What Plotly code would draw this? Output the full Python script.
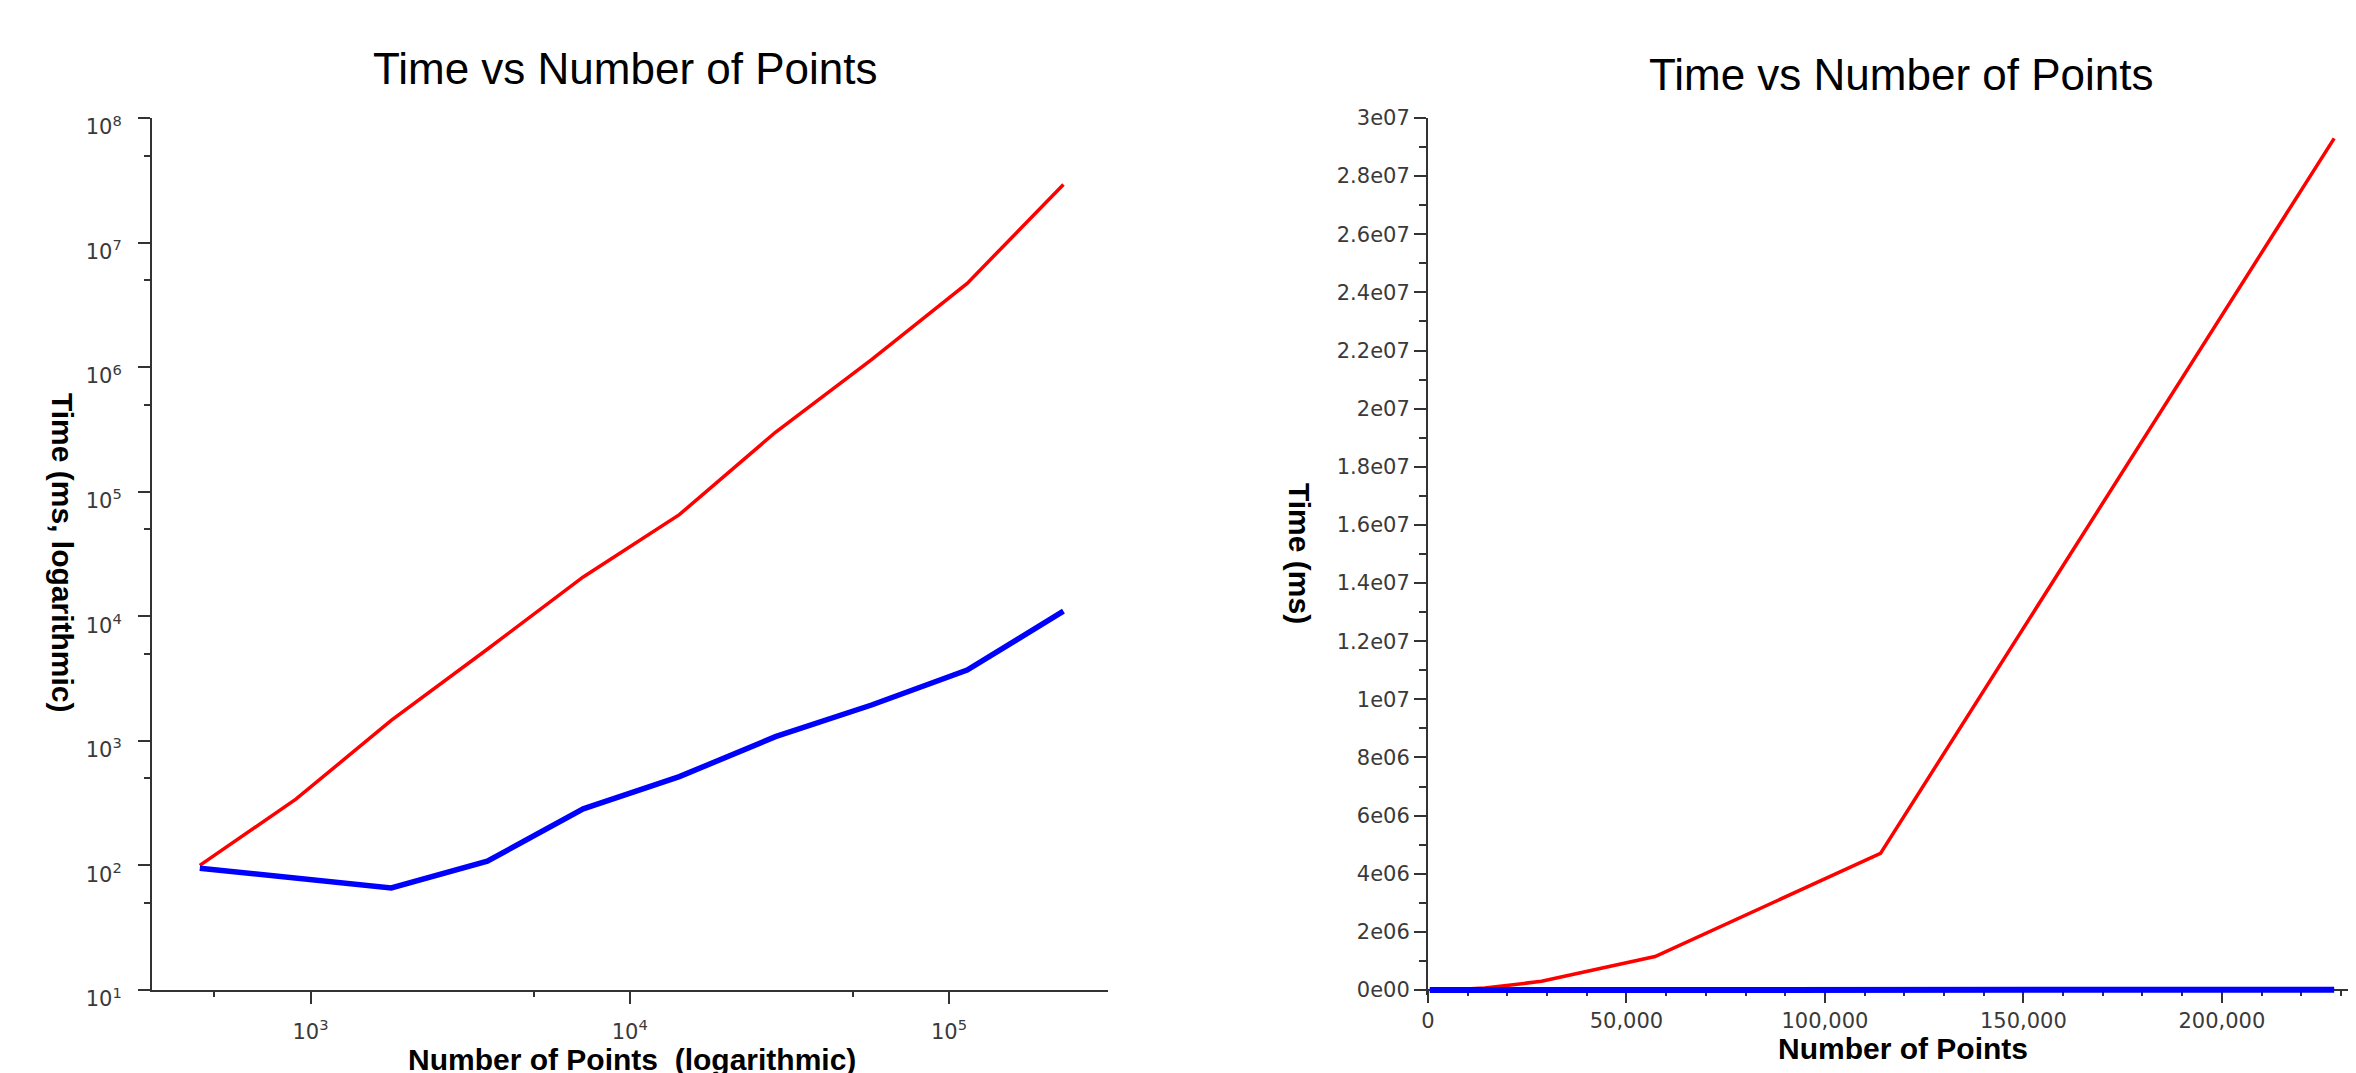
import math
import plotly.graph_objects as go

W, H = 2356, 1073

# ---- data ----
points = [450, 900, 1790, 3580, 7150, 14300, 28600, 57200, 114000, 228300]
time_red = [100, 340, 1460, 5440, 20700, 65500, 300000, 1150000, 4700000, 29300000]
time_blue = [95, 79, 66, 108, 285, 516, 1080, 1940, 3700, 11000]

log_y_exps = [1, 2, 3, 4, 5, 6, 7, 8]
log_x_exps = [3, 4, 5]
lin_y_ticks = [i * 2e6 for i in range(16)]
lin_x_ticks = [0, 50000, 100000, 150000, 200000]

title_text = "Time vs Number of Points"
left_xtitle = "Number of Points\u00a0 (logarithmic)"
left_ytitle = "Time (ms, logarithmic)"
right_xtitle = "Number of Points"
right_ytitle = "Time (ms)"


def px(x):
    return x / W


def py(y):
    return 1 - y / H


def sci(v):
    if v == 0:
        return "0e00"
    e = int(math.floor(math.log10(v) + 1e-9))
    m = v / 10 ** e
    return f"{m:g}e{e:02d}"


RED = "#ff0000"
BLUE = "#0000ff"
AX = "#333333"
tickfont = dict(family="DejaVu Sans", size=21, color="#3a3a3a")
logfont = dict(family="DejaVu Sans", size=21, color="#3a3a3a")

fig = go.Figure()
fig.add_trace(go.Scatter(x=points, y=time_red, mode="lines", line=dict(color=RED, width=3.5),
                         xaxis="x", yaxis="y", showlegend=False))
fig.add_trace(go.Scatter(x=points, y=time_blue, mode="lines", line=dict(color=BLUE, width=5.5),
                         xaxis="x", yaxis="y", showlegend=False))
fig.add_trace(go.Scatter(x=points, y=time_red, mode="lines", line=dict(color=RED, width=3.5),
                         xaxis="x2", yaxis="y2", showlegend=False))
fig.add_trace(go.Scatter(x=points, y=time_blue, mode="lines", line=dict(color=BLUE, width=6),
                         xaxis="x2", yaxis="y2", showlegend=False))

common = dict(showline=True, linecolor=AX, linewidth=2, ticks="outside", ticklen=12,
              tickwidth=2, tickcolor=AX, showgrid=False, zeroline=False,
              automargin=False)

# left (log-log)
dec = 319.25
xlo = 3 - (302.5 - 144) / dec
xhi = 5 + (1100 - 941) / dec
fig.update_layout(
    xaxis=dict(type="log", range=[xlo, xhi], domain=[px(144), px(1100)], anchor="y",
               tickvals=[10 ** e for e in log_x_exps],
               ticktext=[f"10<sup>{e}</sup>" for e in log_x_exps],
               minor=dict(ticks="outside", ticklen=5, tickwidth=2, tickcolor=AX,
                          tickvals=[5 * 10 ** e for e in range(2, 6)]),
               ticklabelstandoff=10, tickfont=logfont, **common),
    yaxis=dict(type="log", range=[1, 8], domain=[py(982), py(110)], anchor="x",
               tickvals=[10 ** e for e in log_y_exps],
               ticktext=[f"10<sup>{e}</sup>" for e in log_y_exps],
               minor=dict(ticks="outside", ticklen=6, tickwidth=2, tickcolor=AX,
                          tickvals=[5 * 10 ** e for e in range(1, 8)]),
               ticklabelshift=9, ticklabelstandoff=12, tickfont=logfont, **common),
)

# right (linear)
ppm = (982 - 110) / 3e7  # px per ms
ylo = -5 / ppm
fig.update_layout(
    xaxis2=dict(range=[0, 234300], domain=[px(1420), px(2350)], anchor="free", position=py(982),
                tickvals=lin_x_ticks, tickformat=",", layer="below traces",
                minor=dict(ticks="outside", ticklen=5, tickwidth=2, tickcolor=AX, dtick=10000),
                tickfont=tickfont, **common),
    yaxis2=dict(range=[ylo, 3e7], domain=[py(987), py(110)], anchor="x2",
                tickvals=lin_y_ticks, ticktext=[sci(v) for v in lin_y_ticks],
                minor=dict(ticks="outside", ticklen=7, tickwidth=2, tickcolor=AX, dtick=1e6),
                tickfont=tickfont, **common),
)

tfont = dict(family="Liberation Sans", size=44, color="black")
bfont = dict(family="Liberation Sans", size=30, color="black", weight="bold")
ann = [
    dict(text=title_text, x=px(617), y=py(61), font=tfont),
    dict(text=title_text, x=px(1893), y=py(67), font=tfont),
    dict(text=left_ytitle, x=px(55), y=py(545), font=bfont, textangle=90),
    dict(text=right_ytitle, x=px(1292), y=py(545), font=bfont, textangle=90),
    dict(text=left_xtitle, x=px(624), y=py(1051), font=bfont),
    dict(text=right_xtitle, x=px(1895), y=py(1040), font=bfont),
]
for a in ann:
    a.update(xref="paper", yref="paper", xanchor="center", yanchor="middle", showarrow=False)

fig.update_layout(width=W, height=H, margin=dict(l=0, r=0, t=0, b=0, pad=0, autoexpand=False),
                  paper_bgcolor="white", plot_bgcolor="white", annotations=ann)

fig.write_html("out.html")
